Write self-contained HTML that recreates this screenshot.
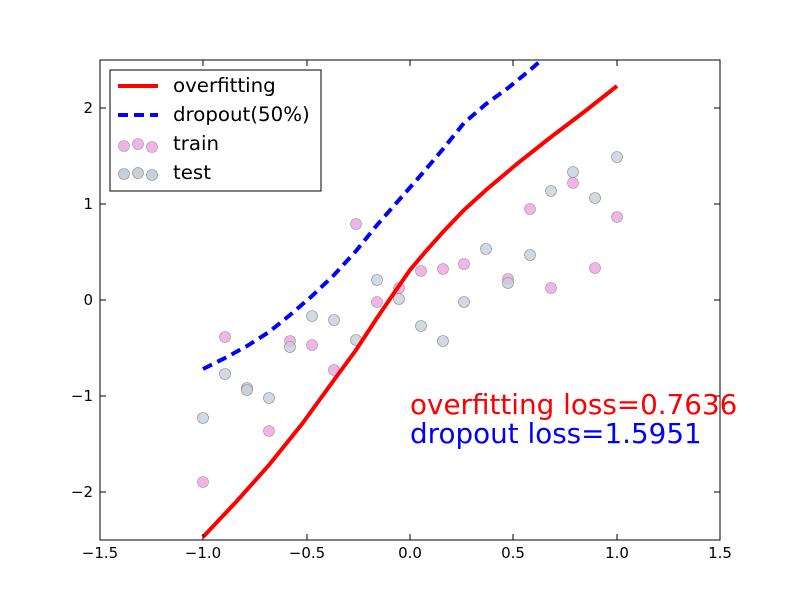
<!DOCTYPE html>
<html><head><meta charset="utf-8"><style>
body{margin:0;background:#fff;}
text{font-family:"DejaVu Sans","Liberation Sans",sans-serif;}
</style></head><body>
<svg width="800" height="600" xmlns="http://www.w3.org/2000/svg">
<rect width="800" height="600" fill="#fff"/>
<defs><clipPath id="c"><rect x="100" y="60" width="620" height="480"/></clipPath></defs>
<g clip-path="url(#c)">
<g fill="#ee99dd" fill-opacity="0.75" stroke="#999" stroke-width="0.6">
<circle cx="203" cy="482" r="5.5"/><circle cx="225" cy="337" r="5.5"/><circle cx="269" cy="431" r="5.5"/><circle cx="290" cy="341" r="5.5"/><circle cx="312" cy="345" r="5.5"/><circle cx="334" cy="370" r="5.5"/><circle cx="356" cy="224" r="5.5"/><circle cx="377" cy="302" r="5.5"/><circle cx="399" cy="288" r="5.5"/><circle cx="421" cy="271" r="5.5"/><circle cx="443" cy="269" r="5.5"/><circle cx="464" cy="264" r="5.5"/><circle cx="508" cy="279" r="5.5"/><circle cx="530" cy="209" r="5.5"/><circle cx="551" cy="288" r="5.5"/><circle cx="573" cy="183" r="5.5"/><circle cx="595" cy="268" r="5.5"/><circle cx="617" cy="217" r="5.5"/>
</g>
<g fill="#c8d0d8" fill-opacity="0.8" stroke="#888" stroke-width="0.6">
<circle cx="203" cy="418" r="5.5"/><circle cx="225" cy="374" r="5.5"/><circle cx="247" cy="388" r="5.5"/><circle cx="247" cy="390" r="5.5"/><circle cx="269" cy="398" r="5.5"/><circle cx="290" cy="347" r="5.5"/><circle cx="312" cy="316" r="5.5"/><circle cx="334" cy="320" r="5.5"/><circle cx="356" cy="340" r="5.5"/><circle cx="377" cy="280" r="5.5"/><circle cx="399" cy="299" r="5.5"/><circle cx="421" cy="326" r="5.5"/><circle cx="443" cy="341" r="5.5"/><circle cx="464" cy="302" r="5.5"/><circle cx="486" cy="249" r="5.5"/><circle cx="508" cy="283" r="5.5"/><circle cx="530" cy="255" r="5.5"/><circle cx="551" cy="191" r="5.5"/><circle cx="573" cy="172" r="5.5"/><circle cx="595" cy="198" r="5.5"/><circle cx="617" cy="157" r="5.5"/>
</g>
<polyline fill="none" stroke="#ff0000" stroke-width="4" points="203,537 236,502 269,465 302,424 334,380 356,350 377,318 394,293 410,270 426,251 443,232 464,210 486,190 518,163 551,137 584,112 617,86"/>
<polyline fill="none" stroke="#0000ff" stroke-width="4" stroke-dasharray="10,6" points="203,369 225,358 247,346 269,332 290,315 312,296 334,275 356,251 377,225 399,200 421,175 443,149 464,123 486,104 508,88 530,70 545,57"/>
</g>
<rect x="100" y="60" width="620" height="480" fill="none" stroke="#000" stroke-width="1"/>
<g stroke="#000" stroke-width="1">
<line x1="100" y1="540" x2="100" y2="534"/><line x1="203" y1="540" x2="203" y2="534"/><line x1="307" y1="540" x2="307" y2="534"/><line x1="410" y1="540" x2="410" y2="534"/><line x1="513" y1="540" x2="513" y2="534"/><line x1="617" y1="540" x2="617" y2="534"/><line x1="720" y1="540" x2="720" y2="534"/>
<line x1="100" y1="60" x2="100" y2="66"/><line x1="203" y1="60" x2="203" y2="66"/><line x1="307" y1="60" x2="307" y2="66"/><line x1="410" y1="60" x2="410" y2="66"/><line x1="513" y1="60" x2="513" y2="66"/><line x1="617" y1="60" x2="617" y2="66"/><line x1="720" y1="60" x2="720" y2="66"/>
<line x1="100" y1="108" x2="106" y2="108"/><line x1="100" y1="204" x2="106" y2="204"/><line x1="100" y1="300" x2="106" y2="300"/><line x1="100" y1="396" x2="106" y2="396"/><line x1="100" y1="492" x2="106" y2="492"/>
<line x1="720" y1="108" x2="714" y2="108"/><line x1="720" y1="204" x2="714" y2="204"/><line x1="720" y1="300" x2="714" y2="300"/><line x1="720" y1="396" x2="714" y2="396"/><line x1="720" y1="492" x2="714" y2="492"/>
</g>
<g font-size="15" fill="#000" text-anchor="middle">
<text x="100" y="558">−1.5</text><text x="203" y="558">−1.0</text><text x="307" y="558">−0.5</text><text x="410" y="558">0.0</text><text x="513" y="558">0.5</text><text x="617" y="558">1.0</text><text x="720" y="558">1.5</text>
</g>
<g font-size="15" fill="#000" text-anchor="end">
<text x="93" y="113">2</text><text x="93" y="209">1</text><text x="93" y="305">0</text><text x="93" y="401">−1</text><text x="93" y="497">−2</text>
</g>
<text x="410" y="414" font-size="27.8" fill="#ff0000">overfitting loss=0.7636</text>
<text x="410" y="443" font-size="27.8" fill="#0000ff">dropout loss=1.5951</text>
<rect x="110" y="70" width="211" height="121" fill="#fff" stroke="#000" stroke-width="1"/>
<line x1="118" y1="86" x2="158" y2="86" stroke="#ff0000" stroke-width="4"/>
<line x1="118" y1="115" x2="158" y2="115" stroke="#0000ff" stroke-width="4" stroke-dasharray="10,6"/>
<g fill="#ee99dd" fill-opacity="0.75" stroke="#999" stroke-width="0.6"><circle cx="124" cy="146" r="5.5"/><circle cx="138" cy="144" r="5.5"/><circle cx="152" cy="147" r="5.5"/></g>
<g fill="#c8d0d8" stroke="#888" stroke-width="0.6"><circle cx="124" cy="174" r="5.5"/><circle cx="138" cy="173" r="5.5"/><circle cx="152" cy="175" r="5.5"/></g>
<g font-size="19.8" fill="#000">
<text x="173" y="92">overfitting</text><text x="173" y="121">dropout(50%)</text><text x="173" y="150">train</text><text x="173" y="179">test</text>
</g>
</svg>
</body></html>
